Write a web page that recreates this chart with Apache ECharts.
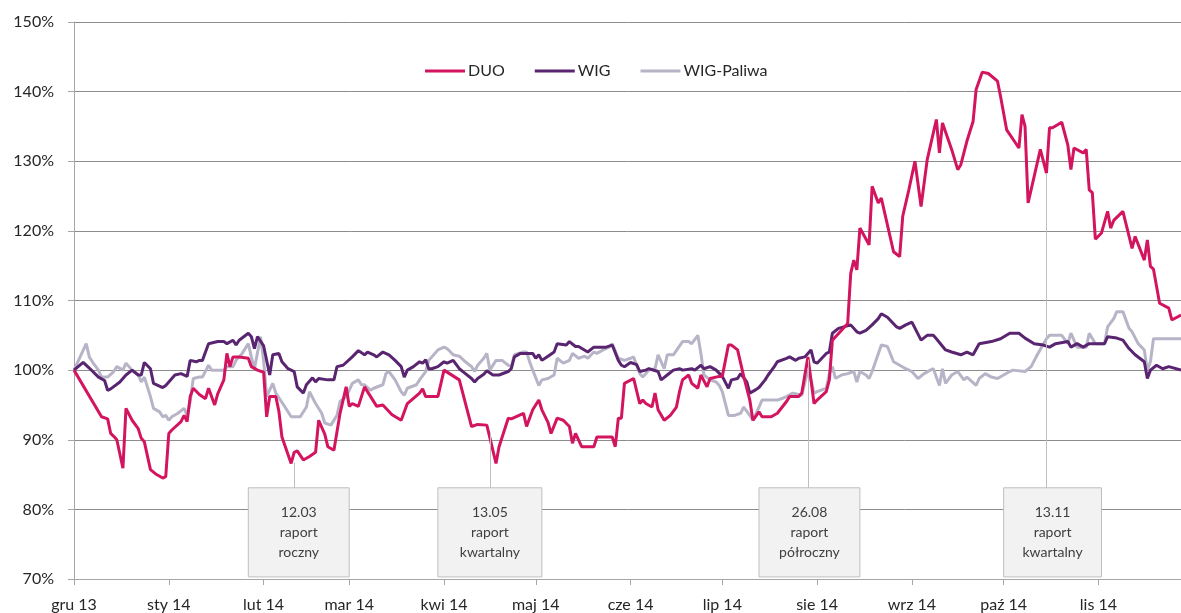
<!DOCTYPE html>
<html>
<head>
<meta charset="utf-8">
<script src="https://cdn.jsdelivr.net/npm/echarts@6/dist/echarts.min.js"></script>
<style>
  html, body { margin: 0; padding: 0; background: #fff; }
  #chart { width: 1181px; height: 613px; }
</style>
</head>
<body>
<div id="chart"></div>
<script>
// days counted from 1 Dec 2013, values in %
var duoDays = [0,9,11,12,13,14,16,17,19,21,22,23,25,27,29,30,31,32,35,36,37,38,39,41,43,44,46,47,49,50,51,52,54,57,58,60,62,63,64,66,67,68,71,72,73,75,77,79,80,82,83,85,87,89,90,91,93,95,97,99,101,104,107,109,113,114,115,119,121,126,130,132,135,138,139,142,143,145,147,148,150,152,153,155,156,158,160,162,163,164,166,170,171,176,177,178,179,180,183,185,186,187,189,190,191,193,195,197,198,199,201,202,204,205,207,208,211,212,214,215,217,219,221,222,224,225,228,230,233,234,237,238,240,241,242,243,246,247,248,253,254,255,256,257,260,261,263,264,268,270,271,273,275,277,279,282,283,284,287,289,290,292,294,295,297,299,302,303,305,309,310,311,312,316,318,319,320,323,325,326,327,330,331,332,333,334,336,338,339,340,343,346,347,350,351,352,353,355,358,359,362];
var duoVals = [100,93.3,93.0,90.9,90.5,90.0,85.9,94.5,92.8,91.6,90.2,89.7,85.7,85.0,84.5,84.7,90.9,91.4,92.6,93.5,92.6,96.2,97.4,96.5,95.9,97.4,95.0,96.6,98.6,102.4,100.5,101.9,101.9,101.7,100.5,100,99.7,93.3,96.2,96.2,94.1,90.4,86.6,88.2,88.4,87.1,87.6,88.2,92.8,90.8,89.0,88.5,93.8,97.6,94.8,95.2,94.8,97.6,96.2,94.8,95.0,93.6,92.8,95.2,96.7,97.3,96.2,96.2,100,98.6,91.9,92.2,92.1,86.6,89.0,93.1,93.0,93.4,93.8,91.9,94.3,95.7,94.3,92.5,90.9,93.1,92.8,91.9,89.5,90.9,89.0,89.0,90.4,90.4,89.0,93.1,93.1,98.1,98.8,95.2,95.7,95.2,94.7,96.7,94.3,92.8,93.5,94.7,96.9,98.6,99.3,98.1,97.4,99.3,97.6,98.8,99.1,99.1,103.6,103.6,102.9,99.1,95.7,92.8,94.0,93.3,93.3,93.8,95.5,96.2,96.2,96.7,101.9,98.6,95.2,95.7,96.9,98.6,104.3,106.7,113.9,115.8,114.4,120.4,118.0,126.4,124.0,124.7,117.0,116.3,122.1,125.9,130.0,123.5,130.2,136.0,131.2,135.5,131.7,128.8,129.5,132.9,135.7,140.3,142.8,142.6,141.5,139.3,134.5,131.9,136.7,135.0,124.0,131.7,128.3,134.8,134.8,135.6,132.3,128.8,131.9,131.2,131.7,125.9,125.5,118.8,119.7,122.8,120.4,121.5,122.8,117.5,119.2,115.8,118.7,114.9,114.5,109.6,108.9,107.2,107.9];

var wigDays = [0,3,5,8,10,11,12,15,17,19,21,22,23,25,26,29,30,31,33,35,37,38,40,41,42,43,44,47,49,50,52,53,54,57,58,59,60,62,64,65,67,68,70,72,73,75,76,78,79,80,83,85,86,88,91,93,95,96,98,99,101,103,105,107,108,109,111,113,114,115,116,117,119,121,122,124,126,128,130,131,132,134,135,137,139,142,143,144,146,148,150,151,152,153,155,157,158,161,162,164,165,168,170,173,174,176,178,179,180,182,184,185,187,188,191,192,194,196,198,199,202,203,205,206,208,210,212,214,215,217,218,220,221,223,224,226,227,229,230,233,234,236,237,239,241,242,243,246,247,248,250,254,256,257,259,261,263,264,266,269,270,272,274,277,279,281,282,285,287,290,292,294,296,300,303,306,309,311,314,317,319,321,325,326,328,330,332,335,337,338,341,343,345,347,350,351,352,354,356,358,362];
var wigVals = [100,101.1,100.3,99.0,98.5,97.1,97.3,98.3,99.3,100,99.3,99.3,101.1,100.2,98.1,97.5,97.8,98.3,99.3,99.5,99.1,101.4,101.2,101.4,101.4,102.6,103.8,104.1,104.1,103.8,104.3,103.6,104.3,105.3,104.8,103.1,104.8,103.5,99.3,102.2,102.4,101.2,100.2,99.8,97.6,96.7,97.9,98.9,98.3,98.8,98.6,98.6,100.5,100.7,101.9,102.8,102.2,102.6,102.2,101.9,102.6,102.2,101.4,100.5,99.0,100,100.5,101.2,101.0,101.5,100.2,100.2,100.5,101.2,101.0,101.4,100.2,99.5,98.8,98.3,98.8,99.4,99.9,99.3,99.3,99.8,100.2,101.9,102.4,102.4,102.4,101.7,102.2,101.4,102.0,102.6,103.8,103.6,104.1,103.4,103.4,102.6,103.3,103.3,103.3,103.6,101.4,100.7,100.5,101.1,100.8,99.8,100,100.2,99.8,98.6,99.3,100,100.2,100,100.2,100,100.7,100.2,100.5,100,99.1,97.4,98.6,98.8,99.5,98.3,96.7,97.2,97.5,98.6,99.3,100.5,101.2,101.7,101.9,101.4,101.7,101.9,102.9,101.2,101.0,102.4,102.6,105.3,106.0,106.5,105.5,105.3,105.7,106.5,107.4,108.1,107.6,106.2,106.0,106.5,106.9,104.3,105.0,105.0,104.5,102.9,102.6,102.2,102.6,102.2,103.8,104.1,104.5,105.3,105.3,104.6,103.8,103.6,103.3,103.8,104.1,103.3,103.8,103.3,103.8,103.8,103.8,104.8,104.6,104.3,103.1,102.2,101.2,98.8,100,100.7,100.2,100.5,100];

var palDays = [0,4,5,6,8,9,11,13,14,16,17,19,21,22,23,25,26,28,29,30,31,32,34,36,37,38,39,41,42,44,45,47,49,50,52,53,55,57,58,59,61,62,63,65,66,69,71,74,76,77,79,81,82,84,86,87,89,90,91,93,94,95,97,98,101,102,103,105,107,108,109,112,113,115,116,119,121,122,124,126,128,130,131,132,134,135,136,138,140,142,143,144,147,148,149,150,152,153,155,157,158,160,162,163,165,167,168,170,171,173,175,176,178,180,182,183,185,186,188,190,191,193,194,196,199,201,202,204,205,206,208,210,211,212,214,216,218,219,221,222,224,225,228,230,232,233,235,237,238,240,241,242,243,246,247,248,249,251,253,255,256,257,259,260,261,264,266,268,270,272,274,276,278,280,281,283,284,285,287,289,291,292,295,296,298,300,302,304,306,307,311,313,315,318,319,323,325,326,328,331,332,334,337,338,340,341,343,345,346,348,350,351,352,353,355,362];
var palVals = [100,103.8,101.9,101.2,100,99.0,99.0,99.8,100.5,100.0,101.0,100,99.3,98.3,99.0,96.2,94.5,94.0,93.3,93.5,92.8,93.3,93.8,94.5,93.5,95.5,98.8,99.0,99.0,100.7,100,100,100,100.5,100.5,101.4,102.4,103.8,101.9,100.2,104.8,101.4,96.2,98.1,96.7,94.7,93.3,93.3,94.7,96.9,95.2,93.8,92.4,92.1,93.5,95.5,96.2,97.1,98.1,98.6,97.9,97.9,97.1,97.4,97.9,99.5,99.8,98.6,96.9,96.4,97.4,97.9,98.6,99.8,101.4,102.9,103.3,103.1,102.2,102.0,101.2,100.5,99.8,100.7,101.7,102.4,100,101.4,101.4,100.7,100.5,102.2,102.6,102.6,101.2,100,97.8,98.6,98.8,99.3,101.7,101.0,101.4,102.4,101.7,102.0,101.7,102.6,102.4,102.9,103.3,103.8,101.7,101.4,101.7,101.9,99.5,99.0,100,100.2,102.2,100.2,102.2,102.2,104.1,104.1,103.8,105.0,102.4,99.3,98.6,98.3,97.8,96.9,93.5,93.5,93.8,94.7,93.5,92.8,94.7,95.7,95.7,95.7,96.0,96.2,96.7,96.5,96.4,100,98.6,96.7,96.9,97.4,99.5,100.5,98.8,99.3,99.5,99.8,98.3,99.8,99.3,98.8,99.8,103.6,103.4,101.2,100.7,100.2,99.8,98.8,99.5,100,100.2,97.8,100.2,98.1,99.3,99.8,98.6,99.0,97.8,98.8,99.5,99.0,98.8,99.3,99.8,100,99.8,100.5,102.2,104.5,105,105,103.8,105.3,103.3,103.3,105.3,103.8,103.8,106.2,107.4,108.4,108.4,106.0,105.5,103.8,102.9,100,101.2,104.5,104.5,104.5];

var monthNames = ['sty','lut','mar','kwi','maj','cze','lip','sie','wrz','paź','lis','gru'];
var dayCount = 363;

// annotation boxes: [leader day, leader top value, box start day, box end day, text]
var notes = [
    [72, 86.7, 57, 90, '12.03\nraport\nroczny'],
    [136, 91.0, 119, 153, '13.05\nraport\nkwartalny'],
    [240, 101.5, 224, 257, '26.08\nraport\npółroczny'],
    [318, 128.3, 304, 336, '13.11\nraport\nkwartalny']
];
var boxTop = 83.1, boxBottom = 70.3;

var days = [];
for (var i = 0; i < dayCount; i++) {
    var d = new Date(2013, 11, 1 + i);
    days.push(d.getFullYear() + '-' + (d.getMonth() + 1) + '-' + d.getDate());
}
function isMonthStart(idx, value) {
    return /-1$/.test(value);
}
function pairs(ds, vs) {
    return ds.map(function (d, i) { return [d, vs[i]]; });
}

var font = 'Lato, "Liberation Sans", sans-serif';
var chart = echarts.init(document.getElementById('chart'));
var option = {
    animation: false,
    backgroundColor: '#ffffff',
    textStyle: { fontFamily: font },
    grid: { left: 74, right: 0, top: 22, bottom: 34 },
    legend: {
        left: 420,
        top: 58,
        itemWidth: 40,
        itemHeight: 3,
        itemGap: 30,
        icon: 'rect',
        textStyle: { fontSize: 16, color: '#262626', fontFamily: font, padding: [0, 0, 0, -2] },
        data: ['DUO', 'WIG', 'WIG-Paliwa']
    },
    xAxis: {
        type: 'category',
        data: days,
        boundaryGap: false,
        axisLine: { lineStyle: { color: '#a6a6a6' } },
        axisTick: { show: true, interval: isMonthStart, length: 6, lineStyle: { color: '#a6a6a6' } },
        axisLabel: {
            interval: isMonthStart,
            margin: 18,
            fontSize: 16,
            color: '#262626',
            fontFamily: font,
            formatter: function (v) {
                var p = v.split('-');
                return monthNames[(+p[1]) - 1] + ' ' + (p[0] % 100);
            }
        },
        splitLine: { show: false }
    },
    yAxis: {
        type: 'value',
        min: 70,
        max: 150,
        interval: 10,
        axisLine: { show: true, lineStyle: { color: '#a6a6a6' } },
        axisTick: { show: true, length: 6, lineStyle: { color: '#a6a6a6' } },
        axisLabel: { formatter: '{value}%', fontSize: 16, color: '#262626', margin: 20, fontFamily: font },
        splitLine: { lineStyle: { color: '#8c8c8c', width: 1 } }
    },
    series: [
        {
            name: 'WIG-Paliwa',
            type: 'line',
            z: 2,
            data: pairs(palDays, palVals),
            showSymbol: false,
            color: '#b8b4c8',
            lineStyle: { width: 3, color: '#b8b4c8' }
        },
        {
            name: 'WIG',
            type: 'line',
            z: 3,
            data: pairs(wigDays, wigVals),
            showSymbol: false,
            color: '#5a2570',
            lineStyle: { width: 3, color: '#5a2570' }
        },
        {
            name: 'DUO',
            type: 'line',
            z: 4,
            data: pairs(duoDays, duoVals),
            showSymbol: false,
            color: '#d3145f',
            lineStyle: { width: 3, color: '#d3145f' },
            markLine: {
                silent: true,
                symbol: 'none',
                label: { show: false },
                lineStyle: { color: '#bfbfbf', width: 1, type: 'solid' },
                data: notes.map(function (n) {
                    return [{ coord: [n[0], n[1]] }, { coord: [n[0], boxTop] }];
                })
            },
            markArea: {
                silent: true,
                itemStyle: { color: '#f2f2f2', borderColor: '#bfbfbf', borderWidth: 1 },
                label: {
                    show: true,
                    position: 'inside',
                    fontSize: 14,
                    lineHeight: 20,
                    color: '#404040',
                    fontFamily: font
                },
                data: notes.map(function (n) {
                    return [{ coord: [n[2], boxTop], name: n[4] }, { coord: [n[3], boxBottom] }];
                })
            }
        }
    ]
};
chart.setOption(option);
</script>
</body>
</html>
